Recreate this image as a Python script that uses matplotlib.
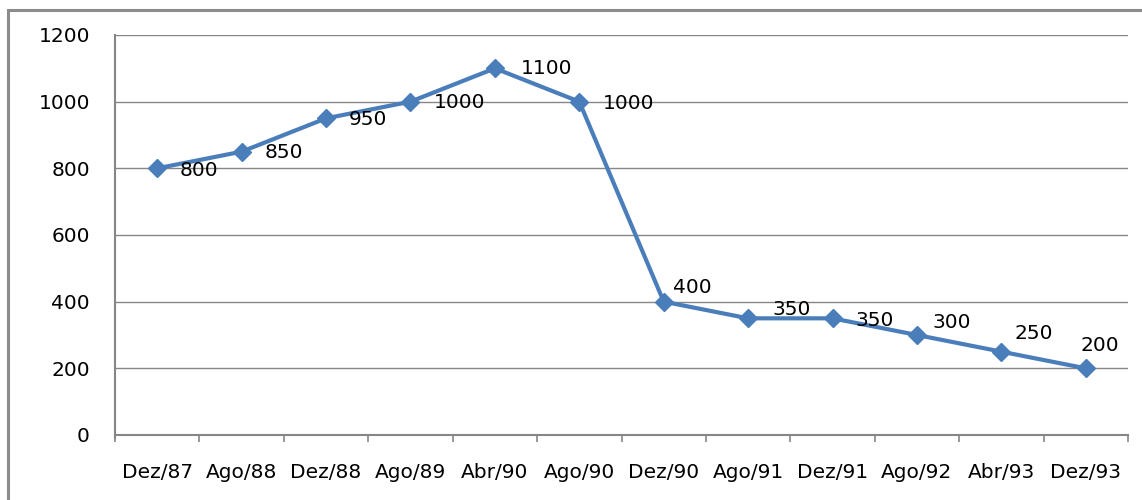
import matplotlib
matplotlib.use("Agg")
import matplotlib.pyplot as plt
from matplotlib.patches import Rectangle

plt.rcParams["font.family"] = ["DejaVu Sans"]

categories = ["Dez/87", "Ago/88", "Dez/88", "Ago/89", "Abr/90", "Ago/90",
              "Dez/90", "Ago/91", "Dez/91", "Ago/92", "Abr/93", "Dez/93"]
values = [800, 850, 950, 1000, 1100, 1000, 400, 350, 350, 300, 250, 200]
yticks = [0, 200, 400, 600, 800, 1000, 1200]
# label offsets in pixels (dx, dy) relative to each point (dy positive = up)
label_offsets = [(22, -2), (23, -1), (23, -1), (23, -1), (26, 0), (24, -2),
                 (9, 14), (24, 9), (23, -2), (15, 12), (13, 18), (-5, 23)]

W, H = 1142, 500
fig = plt.figure(figsize=(W / 100, H / 100), dpi=100)
fig.patch.set_facecolor("white")

# outer border
fig.patches.append(Rectangle((8 / W, -0.1), 1.2, (H - 10) / H + 0.1,
                             transform=fig.transFigure, fill=False,
                             edgecolor="#8c8c8c", linewidth=2.2))

ax = fig.add_axes([115 / W, (H - 435) / H, (1128 - 115) / W, 400 / H])
n = len(categories)
x = list(range(n))
ax.set_xlim(-0.5, n - 0.5)
ax.set_ylim(0, 1200)

gray = "#868686"
for t in yticks[1:]:
    ax.axhline(t, color=gray, linewidth=1.0, zorder=1)

ax.plot(x, values, color="#4a7ebb", linewidth=3, marker="D", markersize=9,
        markerfacecolor="#4a7ebb", markeredgecolor="#4a7ebb", zorder=3)

fs = 14.5
for xi, v, (dx, dy) in zip(x, values, label_offsets):
    ax.annotate(str(v), (xi, v), xytext=(dx * 0.72, dy * 0.72),
                textcoords="offset points", ha="left", va="center",
                fontsize=fs, color="black", zorder=4)

ax.set_yticks(yticks)
ax.set_yticklabels([str(t) for t in yticks], fontsize=fs)
ax.tick_params(axis="y", length=0, pad=18)

ax.set_xticks(x)
ax.set_xticklabels(categories, fontsize=fs)
ax.tick_params(axis="x", which="major", length=0, pad=20)
ax.set_xticks([i - 0.5 for i in range(n + 1)], minor=True)
ax.tick_params(axis="x", which="minor", length=5, width=1.2, color=gray, direction="out")

for s in ["top", "right"]:
    ax.spines[s].set_visible(False)
for s in ["left", "bottom"]:
    ax.spines[s].set_color(gray)
    ax.spines[s].set_linewidth(1.5)
ax.spines["left"].set_bounds(-10, 1200)

fig.savefig("out.png", dpi=100, facecolor="white")
